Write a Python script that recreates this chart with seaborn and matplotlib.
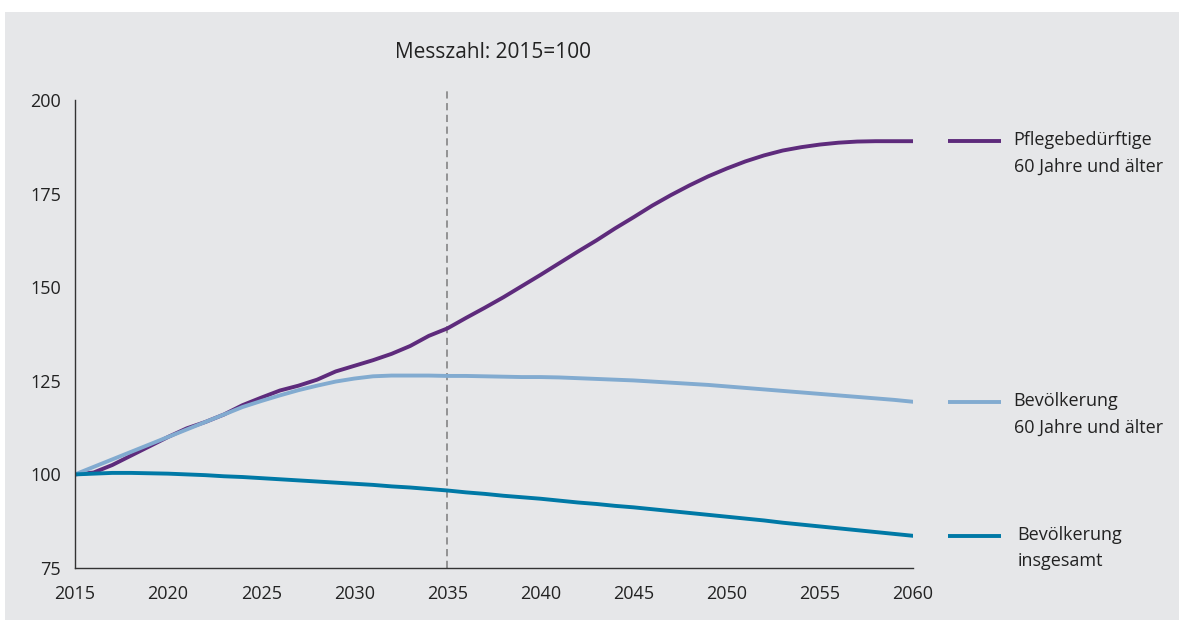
import numpy as np
import pandas as pd
import matplotlib.pyplot as plt
import seaborn as sns

# Data (index 2015 = 100)
years = list(range(2015, 2061))

pflege_60 = [100.0, 100.5, 102.5, 105.0, 107.5, 110.0, 112.3, 114.0, 116.0, 118.5,
             120.5, 122.4, 123.7, 125.3, 127.5, 129.0, 130.5, 132.2, 134.3, 137.0,
             139.0, 141.8, 144.5, 147.3, 150.3, 153.3, 156.4, 159.5, 162.5, 165.7,
             168.7, 171.8, 174.6, 177.2, 179.6, 181.7, 183.6, 185.2, 186.5, 187.4,
             188.1, 188.6, 188.9, 189.0, 189.0, 189.0]

bev_60 = [100.0, 102.0, 104.0, 106.0, 108.0, 110.0, 112.0, 114.0, 116.0, 118.0,
          119.6, 121.1, 122.5, 123.7, 124.8, 125.6, 126.2, 126.4, 126.4, 126.4,
          126.3, 126.3, 126.2, 126.1, 126.0, 126.0, 125.9, 125.7, 125.5, 125.3,
          125.1, 124.8, 124.5, 124.2, 123.9, 123.5, 123.1, 122.7, 122.3, 121.9,
          121.5, 121.1, 120.7, 120.3, 119.9, 119.4]

bev_gesamt = [100.0, 100.2, 100.4, 100.4, 100.3, 100.2, 100.0, 99.8, 99.5, 99.3,
              99.0, 98.7, 98.4, 98.1, 97.8, 97.5, 97.2, 96.8, 96.5, 96.1,
              95.7, 95.2, 94.8, 94.3, 93.9, 93.5, 93.0, 92.5, 92.1, 91.6,
              91.2, 90.7, 90.2, 89.7, 89.2, 88.7, 88.2, 87.7, 87.1, 86.6,
              86.1, 85.6, 85.1, 84.6, 84.1, 83.6]

labels = ["Pflegebedürftige\n60 Jahre und älter",
          "Bevölkerung\n60 Jahre und älter",
          "Bevölkerung\ninsgesamt"]
colors = ["#5e2b7c", "#82abd0", "#0079a6"]

df = pd.DataFrame({"Jahr": years, labels[0]: pflege_60,
                   labels[1]: bev_60, labels[2]: bev_gesamt})
long_df = df.melt(id_vars="Jahr", var_name="Reihe", value_name="Wert")

sns.set_style("white")
plt.rcParams['font.family'] = ['Open Sans', 'DejaVu Sans']

bg = "#e6e7e9"
fig = plt.figure(figsize=(11.79, 6.21), dpi=100, facecolor="white")
# grey panel behind everything
fig.patches.append(plt.Rectangle((5 / 1179, 0.0016), 1 - 5 / 1179, 1 - 12 / 621 - 0.0016,
                                 transform=fig.transFigure, facecolor=bg,
                                 edgecolor="none", zorder=-10))
ax = fig.add_axes([75 / 1179, 1 - 568 / 621, (913 - 75) / 1179, (568 - 100) / 621])
ax.set_facecolor(bg)

sns.lineplot(data=long_df, x="Jahr", y="Wert", hue="Reihe", palette=colors,
             hue_order=labels, linewidth=2.8, ax=ax, legend=False)

ax.set_xlim(2015, 2060)
ax.set_ylim(75, 200)
ax.set_xticks(range(2015, 2061, 5))
ax.set_yticks(range(75, 201, 25))
ax.set_xlabel("")
ax.set_ylabel("")
for s in ["top", "right"]:
    ax.spines[s].set_visible(False)
for s in ["left", "bottom"]:
    ax.spines[s].set_color("#333333")
    ax.spines[s].set_linewidth(1.0)
ax.tick_params(axis="both", direction="out", length=5, width=1.0,
               color="#333333", labelsize=13, labelcolor="#222222")
ax.tick_params(axis="x", pad=7)
ax.tick_params(axis="y", pad=5)

# dashed marker at 2035
ax.plot([2035, 2035], [75, 203.3], color="#8c8c8c", linestyle=(0, (4, 2.5)),
        linewidth=1.3, clip_on=False, zorder=1)

fig.text(493 / 1179, 1 - 53 / 621, "Messzahl: 2015=100", ha="center", va="center",
         fontsize=15, color="#222222")

# right-hand labels next to each series' end value
ends = [pflege_60[-1], bev_60[-1], bev_gesamt[-1]]
text_x = [2065.4, 2065.4, 2065.6]
for lab, col, yv, tx in zip(labels, colors, ends, text_x):
    ax.plot([2061.9, 2064.7], [yv, yv], color=col, linewidth=2.8,
            clip_on=False, solid_capstyle="butt")
    ax.text(tx, yv + 2.6, lab, ha="left", va="top", fontsize=13,
            color="#222222", linespacing=1.6)

fig.savefig("out.png", dpi=100, facecolor="white")
